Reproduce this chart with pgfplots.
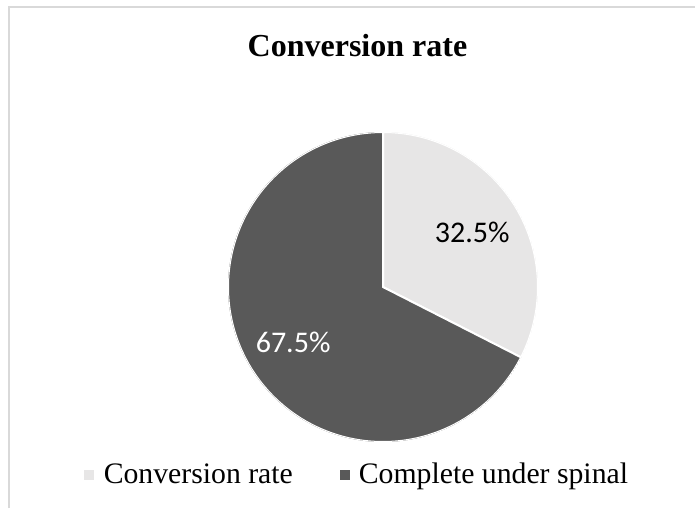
\documentclass[border=0pt]{standalone}
\usepackage{pgfplots}
\pgfplotsset{compat=1.18}
\usepackage{pgfplotstable}
\usepgfplotslibrary{polar}
\usepackage{fontspec}
\setmainfont{Liberation Serif}
\newfontfamily\lblfont{Carlito}
\definecolor{pieA}{HTML}{E7E6E6}
\definecolor{pieB}{HTML}{595959}
\definecolor{frame}{HTML}{D9D9D9}

% share of each slice (%)
\pgfplotstableread{
label      value
Conversion 32.5
Complete   67.5
}\piedata
\pgfplotstablegetelem{0}{value}\of\piedata \let\valA\pgfplotsretval
\pgfplotstablegetelem{1}{value}\of\piedata \let\valB\pgfplotsretval
\pgfmathsetmacro{\angA}{90-3.6*\valA}
\pgfmathsetmacro{\angB}{\angA-3.6*\valB}
\pgfmathsetmacro{\midA}{90-1.8*\valA}
\pgfmathsetmacro{\midB}{\angA-1.8*\valB}

\begin{document}
\begin{tikzpicture}
\path[use as bounding box] (0,0) rectangle (521.25pt,381pt);
% chart frame
\draw[frame, line width=0.9pt] (6.75pt,0pt) -- (6.75pt,375.75pt) -- (521.25pt,375.75pt);
% title
\node[anchor=base, font=\fontsize{24}{28}\selectfont\bfseries, inner sep=0pt] at (268.1pt,338.25pt) {Conversion rate};
\begin{polaraxis}[
  at={(287.25pt,165.75pt)}, anchor=origin,
  scale only axis, width=232.5pt, height=232.5pt,
  ymin=0, ymax=1,
  hide axis,
  legend columns=2,
  legend style={draw=none, fill=none, at={(0.418,-0.105)}, anchor=center,
    font=\fontsize{22.3}{24}\selectfont,
    /tikz/every odd column/.append style={column sep=5pt},
    /tikz/every even column/.append style={column sep=33pt},
    inner sep=0pt},
  legend image code/.code={\fill[#1, draw=none] (0pt,-3.75pt) rectangle (7.5pt,3.75pt);},
]
\addplot[fill=pieA, draw=white, line width=1.5pt, domain=\angA:90, samples=120] {1} -- (axis cs:0,0) -- cycle;
\addlegendentry{Conversion rate}
\addplot[fill=pieB, draw=white, line width=1.5pt, domain=\angB:\angA, samples=200] {1} -- (axis cs:0,0) -- cycle;
\addlegendentry{Complete under spinal}
\node[font=\lblfont\fontsize{22.5}{25}\selectfont, text=black] at (axis cs:\midA,0.675) {32.5\%};
\node[font=\lblfont\fontsize{22.5}{25}\selectfont, text=white] at (axis cs:\midB,0.68) {67.5\%};
\end{polaraxis}
\end{tikzpicture}
\end{document}
